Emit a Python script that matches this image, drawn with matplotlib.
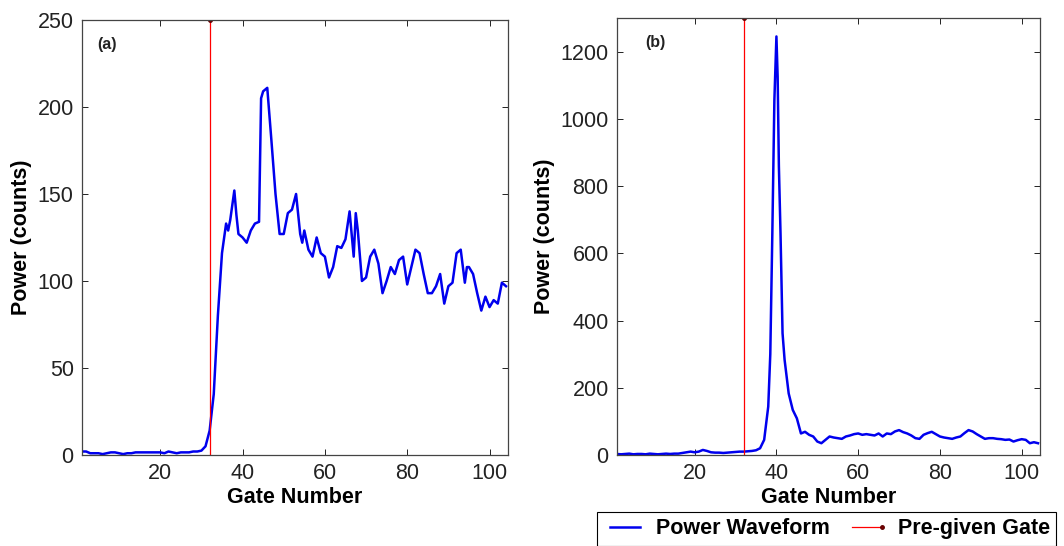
import numpy as np
import matplotlib
matplotlib.use("Agg")
from matplotlib import pyplot as plt
from matplotlib.legend_handler import HandlerLine2D

plt.rcParams['font.family'] = ['Liberation Sans', 'DejaVu Sans']

# (a) waveform, gate numbers and power counts
gate_a = [1, 2, 3, 4, 5, 6, 7, 8, 9, 10, 11, 12, 13, 14, 15, 16, 17, 18, 19, 20,
          21, 22, 23, 24, 25, 26, 27, 28, 29, 30, 31, 32, 33, 34, 35, 36, 36.5, 37,
          38, 38.5, 39, 40, 41, 42, 43, 44, 44.5, 45, 46, 47, 48, 49, 50, 51, 52, 53,
          54, 54.5, 55, 56, 57, 58, 59, 60, 61, 62, 63, 64, 65, 66, 67, 67.5, 68, 69,
          70, 71, 72, 73, 74, 75, 76, 77, 78, 79, 80, 81, 82, 83, 84, 85, 86, 87, 88,
          89, 90, 91, 92, 93, 94, 94.5, 95, 96, 97, 98, 99, 100, 101, 102, 103, 104]
power_a = [2, 2, 1, 1, 1, 0.5, 1, 1.5, 1.5, 1, 0.5, 1, 1, 1.5, 1.5, 1.5, 1.5, 1.5, 1.5, 1.5,
           1, 2, 1.5, 1, 1.5, 1.5, 1.5, 2, 2, 2.5, 5, 14, 35, 80, 116, 133, 129, 135,
           152, 138, 127, 125, 122, 129, 133, 134, 205, 209, 211, 181, 150, 127, 127, 139, 141, 150,
           127, 122, 129, 118, 114, 125, 116, 114, 102, 108, 120, 119, 124, 140, 114, 139, 129, 100,
           102, 114, 118, 110, 93, 100, 108, 104, 112, 114, 98, 108, 118, 116, 104, 93, 93, 97, 104,
           87, 97, 99, 116, 118, 99, 108, 108, 104, 93, 83, 91, 85, 89, 87, 99, 97]

# (b) waveform
gate_b = [1, 2, 3, 4, 5, 6, 7, 8, 9, 10, 11, 12, 13, 14, 15, 16, 17, 18, 19, 20,
          21, 22, 23, 24, 25, 26, 27, 28, 29, 30, 31, 32, 33, 34, 35, 36, 37, 38, 38.5,
          39, 39.5, 40, 40.3, 40.6, 41, 41.5, 42, 43, 44, 45, 46, 47, 48, 49, 50, 51,
          52, 53, 54, 55, 56, 57, 58, 59, 60, 61, 62, 63, 64, 65, 66, 67, 68, 69, 70,
          71, 72, 73, 74, 75, 76, 77, 78, 79, 80, 81, 82, 83, 84, 85, 86, 87, 88, 89,
          90, 91, 92, 93, 94, 95, 96, 97, 98, 99, 100, 101, 102, 103, 104]
power_b = [3, 2, 3, 4, 2, 3, 3, 2, 4, 3, 2, 3, 4, 3, 4, 4, 6, 8, 10, 8,
           10, 15, 12, 8, 7, 7, 6, 7, 8, 9, 10, 10, 11, 12, 14, 20, 45, 144, 300,
           660, 1056, 1245, 1125, 860, 660, 362, 283, 183, 134, 109, 64, 69, 60, 55, 40, 35,
           45, 55, 52, 50, 48, 55, 58, 62, 64, 60, 62, 60, 58, 64, 55, 64, 62, 70, 74,
           68, 64, 58, 50, 48, 60, 65, 69, 62, 55, 52, 50, 48, 52, 55, 65, 74, 70, 62,
           55, 48, 50, 50, 48, 47, 45, 46, 40, 44, 47, 45, 35, 38, 35]

pre_gate = 32
yticks_a = [0, 50, 100, 150, 200, 250]
yticks_b = [0, 200, 400, 600, 800, 1000, 1200]
xticks = [20, 40, 60, 80, 100]


class EndMarker(HandlerLine2D):
    # marker only at the right end of the legend line
    def create_artists(self, *args, **kwargs):
        arts = super().create_artists(*args, **kwargs)
        for a in arts:
            n = len(a.get_xdata())
            a.set_markevery([n - 1])
        return arts


fig = plt.figure(figsize=(10.64, 5.46), dpi=100)
ax1 = fig.add_axes([0.0771, 0.1667, 0.4004, 0.7967])
ax2 = fig.add_axes([0.5799, 0.1667, 0.3976, 0.8004])

fs = 15.5
panels = [(ax1, gate_a, power_a, 250, yticks_a, '(a)', 0.035),
          (ax2, gate_b, power_b, 1300, yticks_b, '(b)', 0.066)]
for ax, g, p, ytop, yt, tag, tx in panels:
    ax.plot(g, p, color='#0000ee', lw=1.8, label='Power Waveform')
    ax.plot([pre_gate, pre_gate], [0, ytop], color='red', lw=0.9,
            marker='o', markersize=2.5, markerfacecolor='#800000',
            markeredgecolor='#600000', markevery=[1], label='Pre-given Gate')
    ax.set_xlim(1, 104.5)
    ax.set_ylim(0, ytop)
    ax.set_xticks(xticks)
    ax.set_yticks(yt)
    ax.tick_params(direction='in', top=True, right=True, length=4, width=0.7,
                   labelsize=fs, pad=6, colors='#222222')
    for s in ax.spines.values():
        s.set_color('#444444')
        s.set_linewidth(0.9)
    ax.set_xlabel('Gate Number', fontsize=fs, fontweight='bold', labelpad=2)
    ax.set_ylabel('Power (counts)', fontsize=fs, fontweight='bold', labelpad=4)
    ax.text(tx, 0.943, tag, transform=ax.transAxes, fontsize=11.5,
            fontweight='bold', va='center', ha='left', color='#222222')

h, l = ax2.get_legend_handles_labels()
leg = fig.legend(h, l, loc='upper left', bbox_to_anchor=(597 / 1064, 1 - 512 / 546),
                 ncol=2, numpoints=2, handlelength=2.0, handletextpad=0.45,
                 columnspacing=0.7, borderaxespad=0, borderpad=0.3,
                 fancybox=False, edgecolor='black', framealpha=1,
                 handler_map={h[1]: EndMarker()},
                 prop={'size': fs, 'weight': 'bold'})
leg.get_frame().set_linewidth(0.8)

fig.savefig('out.png', dpi=100)
